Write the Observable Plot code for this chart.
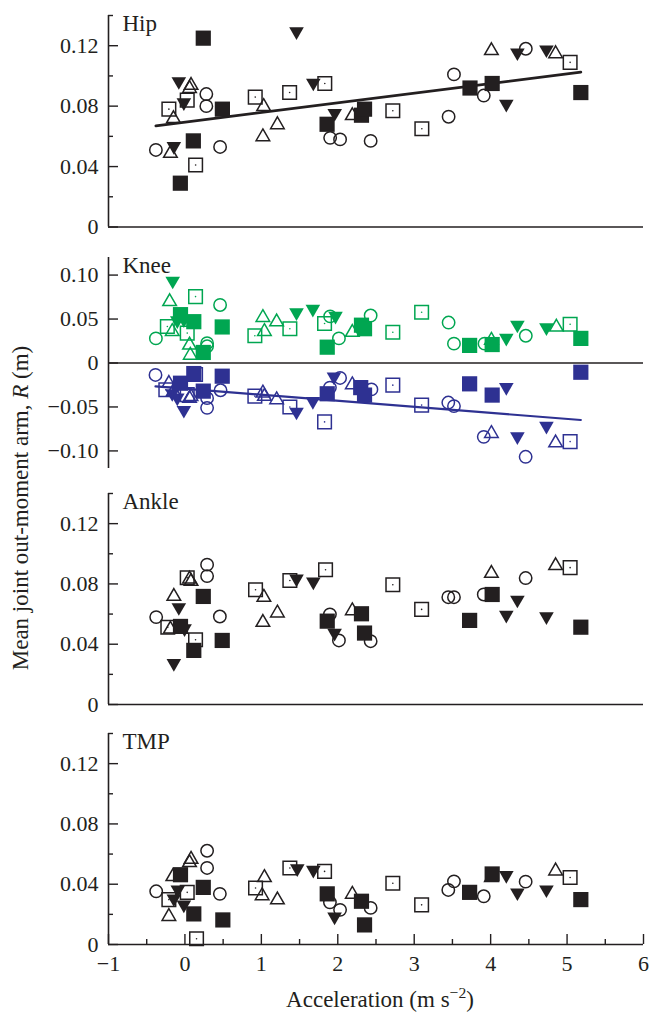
<!DOCTYPE html>
<html>
<head>
<meta charset="utf-8">
<script src="https://cdn.jsdelivr.net/npm/d3@7"></script>
<script src="https://cdn.jsdelivr.net/npm/@observablehq/plot@0.6"></script>
<style>
  body { margin: 0; background: #fff; }
  #chart { position: relative; width: 656px; height: 1015px; font-family: "Liberation Serif", "Times New Roman", serif; color: #231f20; }
  #chart svg { position: absolute; left: 0; }
  .ylabel { position: absolute; left: 20px; top: 508px; transform: translate(-50%, -50%) rotate(-90deg); white-space: nowrap; font-size: 23px; line-height: 1; }
  .xlabel { position: absolute; left: 380px; top: 988px; transform: translateX(-50%); white-space: nowrap; font-size: 23px; line-height: 1; }
  .xlabel sup { font-size: 0.68em; line-height: 0; }
</style>
</head>
<body>
<div id="chart">
  <div class="ylabel">Mean joint out-moment arm, <i>R</i> (m)</div>
  <div class="xlabel">Acceleration (m s<sup>−2</sup>)</div>
</div>
<script>
// Marker codes: o open circle, t open triangle, v filled inverted triangle,
// s open square with centre dot, S filled square.  Rows: [marker, acceleration, R]
const hip = [
  ["o", -0.38, 0.051], ["o", 0.28, 0.088], ["o", 0.28, 0.080], ["o", 0.46, 0.053], ["o", 1.90, 0.059],
  ["o", 2.03, 0.058], ["o", 2.43, 0.057], ["o", 3.45, 0.073], ["o", 3.52, 0.101], ["o", 3.91, 0.087], ["o", 4.46, 0.118],
  ["t", -0.19, 0.050], ["t", -0.15, 0.073], ["t", 0.06, 0.093], ["t", 0.08, 0.095], ["t", 1.03, 0.081],
  ["t", 1.02, 0.061], ["t", 1.21, 0.069], ["t", 2.19, 0.075], ["t", 4.01, 0.118], ["t", 4.85, 0.116],
  ["v", -0.145, 0.052], ["v", -0.08, 0.095], ["v", -0.014, 0.081], ["v", 1.46, 0.128], ["v", 1.68, 0.094],
  ["v", 1.96, 0.074], ["v", 4.205, 0.080], ["v", 4.35, 0.114], ["v", 4.73, 0.116],
  ["s", -0.21, 0.078], ["s", 0.03, 0.084], ["s", 0.14, 0.041], ["s", 0.92, 0.086], ["s", 1.37, 0.089],
  ["s", 1.83, 0.095], ["s", 2.72, 0.077], ["s", 3.10, 0.065], ["s", 5.04, 0.109],
  ["S", -0.06, 0.029], ["S", 0.11, 0.057], ["S", 0.24, 0.125], ["S", 0.49, 0.078], ["S", 1.86, 0.068],
  ["S", 2.31, 0.074], ["S", 2.35, 0.078], ["S", 3.73, 0.092], ["S", 4.02, 0.095], ["S", 5.18, 0.089]
];

const kneePositive = [
  ["o", -0.38, 0.028], ["o", 0.29, 0.0226], ["o", 0.29, 0.019], ["o", 0.46, 0.066], ["o", 1.90, 0.053],
  ["o", 2.015, 0.028], ["o", 2.43, 0.054], ["o", 3.45, 0.046], ["o", 3.52, 0.022], ["o", 3.92, 0.022], ["o", 4.46, 0.031],
  ["t", -0.20, 0.072], ["t", -0.166, 0.038], ["t", 0.06, 0.0226], ["t", 0.07, 0.011], ["t", 1.02, 0.054],
  ["t", 1.04, 0.038], ["t", 1.20, 0.049], ["t", 2.19, 0.037], ["t", 4.01, 0.028], ["t", 4.86, 0.043],
  ["v", -0.16, 0.091], ["v", -0.10, 0.046], ["v", -0.014, 0.047], ["v", 1.46, 0.055], ["v", 1.674, 0.059],
  ["v", 1.97, 0.051], ["v", 4.205, 0.026], ["v", 4.35, 0.041], ["v", 4.73, 0.038],
  ["s", -0.23, 0.0415], ["s", 0.03, 0.034], ["s", 0.139, 0.0755], ["s", 0.915, 0.031], ["s", 1.373, 0.039],
  ["s", 1.827, 0.045], ["s", 2.72, 0.035], ["s", 3.097, 0.0577], ["s", 5.04, 0.044],
  ["S", -0.058, 0.055], ["S", 0.116, 0.047], ["S", 0.24, 0.012], ["S", 0.488, 0.041], ["S", 1.862, 0.018],
  ["S", 2.31, 0.043], ["S", 2.35, 0.039], ["S", 3.725, 0.020], ["S", 4.02, 0.021], ["S", 5.18, 0.028]
];

const kneeNegative = [
  ["o", -0.385, -0.0136], ["o", 0.29, -0.040], ["o", 0.29, -0.051], ["o", 0.466, -0.031], ["o", 1.897, -0.028],
  ["o", 2.03, -0.017], ["o", 2.44, -0.030], ["o", 3.446, -0.045], ["o", 3.52, -0.049], ["o", 3.91, -0.084], ["o", 4.458, -0.1067],
  ["t", -0.21, -0.021], ["t", -0.15, -0.030], ["t", 0.06, -0.038], ["t", 0.08, -0.036], ["t", 1.02, -0.032],
  ["t", 1.04, -0.0358], ["t", 1.20, -0.0396], ["t", 2.19, -0.0226], ["t", 4.01, -0.078], ["t", 4.85, -0.0886],
  ["v", -0.166, -0.037], ["v", -0.10, -0.042], ["v", -0.014, -0.056], ["v", 1.46, -0.058], ["v", 1.674, -0.046],
  ["v", 1.95, -0.018], ["v", 4.205, -0.030], ["v", 4.35, -0.086], ["v", 4.73, -0.074],
  ["s", -0.25, -0.0305], ["s", 0.03, -0.036], ["s", 0.139, -0.013], ["s", 0.915, -0.0377], ["s", 1.373, -0.050],
  ["s", 1.827, -0.067], ["s", 2.72, -0.0252], ["s", 3.097, -0.0479], ["s", 5.04, -0.0894],
  ["S", -0.058, -0.023], ["S", 0.116, -0.012], ["S", 0.24, -0.032], ["S", 0.488, -0.015], ["S", 1.862, -0.035],
  ["S", 2.30, -0.028], ["S", 2.35, -0.0365], ["S", 3.725, -0.0237], ["S", 4.02, -0.0365], ["S", 5.18, -0.0105]
];

const ankle = [
  ["o", -0.376, 0.058], ["o", 0.29, 0.0928], ["o", 0.29, 0.0852], ["o", 0.457, 0.0584], ["o", 1.897, 0.0598],
  ["o", 2.015, 0.0425], ["o", 2.43, 0.042], ["o", 3.446, 0.0712], ["o", 3.52, 0.0712], ["o", 3.91, 0.073], ["o", 4.458, 0.0839],
  ["t", -0.19, 0.0513], ["t", -0.145, 0.073], ["t", 0.06, 0.0845], ["t", 0.08, 0.083], ["t", 1.033, 0.0724],
  ["t", 1.02, 0.0558], ["t", 1.21, 0.062], ["t", 2.19, 0.0635], ["t", 4.01, 0.0883], ["t", 4.85, 0.0934],
  ["v", -0.145, 0.026], ["v", -0.08, 0.063], ["v", -0.005, 0.049], ["v", 1.46, 0.082], ["v", 1.68, 0.080],
  ["v", 1.958, 0.046], ["v", 4.205, 0.058], ["v", 4.35, 0.068], ["v", 4.73, 0.057],
  ["s", -0.224, 0.0513], ["s", 0.03, 0.0841], ["s", 0.139, 0.043], ["s", 0.924, 0.0761], ["s", 1.373, 0.0823],
  ["s", 1.84, 0.0894], ["s", 2.72, 0.0795], ["s", 3.097, 0.0631], ["s", 5.04, 0.0908],
  ["S", -0.058, 0.0518], ["S", 0.116, 0.0359], ["S", 0.24, 0.0717], ["S", 0.488, 0.0425], ["S", 1.862, 0.0553],
  ["S", 2.31, 0.0602], ["S", 2.35, 0.0474], ["S", 3.725, 0.0558], ["S", 4.02, 0.073], ["S", 5.18, 0.0513]
];

const tmp = [
  ["o", -0.376, 0.0353], ["o", 0.29, 0.0622], ["o", 0.29, 0.0508], ["o", 0.457, 0.0336], ["o", 1.897, 0.028],
  ["o", 2.03, 0.023], ["o", 2.43, 0.0243], ["o", 3.446, 0.0362], ["o", 3.52, 0.0419], ["o", 3.91, 0.032], ["o", 4.458, 0.0417],
  ["t", -0.21, 0.0199], ["t", -0.158, 0.0463], ["t", 0.06, 0.0556], ["t", 0.08, 0.0578], ["t", 1.04, 0.0457],
  ["t", 1.01, 0.0336], ["t", 1.21, 0.0309], ["t", 2.19, 0.0346], ["t", 4.01, 0.0457], ["t", 4.85, 0.0501],
  ["v", -0.145, 0.029], ["v", -0.093, 0.035], ["v", -0.014, 0.025], ["v", 1.47, 0.049], ["v", 1.68, 0.048],
  ["v", 1.958, 0.017], ["v", 4.205, 0.0445], ["v", 4.35, 0.033], ["v", 4.73, 0.035],
  ["s", -0.21, 0.0298], ["s", 0.03, 0.0346], ["s", 0.152, 0.0038], ["s", 0.924, 0.0375], ["s", 1.373, 0.0508],
  ["s", 1.827, 0.0485], ["s", 2.72, 0.0406], ["s", 3.097, 0.0263], ["s", 5.04, 0.0445],
  ["S", -0.058, 0.0463], ["S", 0.116, 0.0203], ["S", 0.24, 0.0379], ["S", 0.496, 0.0163], ["S", 1.862, 0.0336],
  ["S", 2.31, 0.0287], ["S", 2.35, 0.013], ["S", 3.725, 0.0346], ["S", 4.02, 0.0468], ["S", 5.18, 0.0298]
];

// Fitted lines: [intercept, slope]
const hipFit = [0.0694, 0.00638];
const kneeNegativeFit = [-0.0293, -0.00686];

// Axis ticks
const accTicks = [-1, 0, 1, 2, 3, 4, 5, 6];
const accMinorTicks = [-0.5, 0.5, 1.5, 2.5, 3.5, 4.5, 5.5];
const armTicks = [0, 0.04, 0.08, 0.12];
const armMinorTicks = [0.02, 0.06, 0.10, 0.14];
const kneeTicks = [-0.10, -0.05, 0, 0.05, 0.10];

const ink = "#231f20", green = "#00a651", blue = "#2e3192";
const W = 656, ML = 108, MR = 13, plotW = W - ML - MR;

// Symbols sized so that r is the half-width of the shape
const half = size => Math.sqrt(size / Math.PI);
const triUp = { draw(c, size) { const r = half(size), h = r * Math.sqrt(3) / 2; c.moveTo(0, -h); c.lineTo(r, h); c.lineTo(-r, h); c.closePath(); } };
const triDown = { draw(c, size) { const r = half(size), h = r * Math.sqrt(3) / 2; c.moveTo(-r, -h); c.lineTo(r, -h); c.lineTo(0, h); c.closePath(); } };
const box = { draw(c, size) { const r = half(size); c.rect(-r, -r, 2 * r, 2 * r); } };

const markers = {
  o: { symbol: "circle", r: 6.2, open: true },
  v: { symbol: triDown, r: 7.3, open: false },
  t: { symbol: triUp, r: 6.8, open: true },
  s: { symbol: box, r: 6.8, open: true, centre: true },
  S: { symbol: box, r: 7.6, open: false }
};
const drawOrder = ["o", "v", "t", "s", "S"];

function pointMarks(rows, color) {
  return drawOrder.flatMap(k => {
    const m = markers[k];
    const sub = rows.filter(d => d[0] === k);
    const out = [Plot.dot(sub, {
      x: d => d[1], y: d => d[2], symbol: m.symbol, r: m.r,
      fill: m.open ? "none" : color, stroke: m.open ? color : "none", strokeWidth: 1.5
    })];
    if (m.centre) out.push(Plot.dot(sub, { x: d => d[1], y: d => d[2], r: 0.8, fill: color, stroke: "none" }));
    return out;
  });
}

function fitLine(rows, [a, b], color, width) {
  const xs = d3.extent(rows, d => d[1]);
  return Plot.line(xs.map(x => ({ x, y: a + b * x })), { x: "x", y: "y", stroke: color, strokeWidth: width });
}

const sign = d => (d < 0 ? "\u2212" : "");
const fmtR = d => d === 0 ? "0" : sign(d) + Math.abs(d).toFixed(2);
const fmtAcc = d => sign(d) + Math.abs(d);

function panel({ title, marks, yDomain, majors, minors, top, height, marginTop, marginBottom, xAxis }) {
  const plotH = height - marginTop - marginBottom;
  const all = [
    Plot.ruleY([0], { stroke: ink, strokeWidth: 1.7 }),
    Plot.ruleX([-1], { stroke: ink, strokeWidth: 1.6 }),
    Plot.tickY(majors, { stroke: ink, strokeWidth: 1.4, insetRight: plotW - 10 }),
    Plot.tickY(minors, { stroke: ink, strokeWidth: 1.4, insetRight: plotW - 5 }),
    Plot.axisY(majors, { tickSize: 0, tickPadding: 10, tickFormat: fmtR, label: null }),
    Plot.text([title], { frameAnchor: "top-left", dx: 14, dy: -1, lineAnchor: "top", textAnchor: "start", fontSize: 23, fill: ink }),
    ...marks
  ];
  if (xAxis) {
    all.push(
      Plot.tickX(accTicks, { stroke: ink, strokeWidth: 1.4, insetTop: plotH - 10 }),
      Plot.tickX(accMinorTicks, { stroke: ink, strokeWidth: 1.4, insetTop: plotH - 5 }),
      Plot.axisX(accTicks, { tickSize: 0, tickPadding: 11, tickFormat: fmtAcc, label: null })
    );
  }
  const svg = Plot.plot({
    width: W, height, marginLeft: ML, marginRight: MR, marginTop, marginBottom,
    x: { domain: [-1, 6], axis: null },
    y: { domain: yDomain, axis: null },
    style: { fontFamily: '"Liberation Serif", "Times New Roman", serif', fontSize: "22px", color: ink, background: "transparent", overflow: "visible" },
    marks: all
  });
  svg.style.top = top + "px";
  document.getElementById("chart").appendChild(svg);
}

panel({
  title: "Hip", yDomain: [0, 0.14], majors: armTicks, minors: armMinorTicks,
  top: 0, height: 240, marginTop: 15, marginBottom: 13.5,
  marks: [fitLine(hip, hipFit, ink, 2.8), ...pointMarks(hip, ink)]
});

panel({
  title: "Knee", yDomain: [-0.12, 0.12], majors: kneeTicks, minors: [],
  top: 240, height: 240, marginTop: 17, marginBottom: 12,
  marks: [...pointMarks(kneePositive, green), fitLine(kneeNegative, kneeNegativeFit, blue, 2.2), ...pointMarks(kneeNegative, blue)]
});

panel({
  title: "Ankle", yDomain: [0, 0.14], majors: armTicks, minors: armMinorTicks,
  top: 480, height: 240, marginTop: 13, marginBottom: 16,
  marks: pointMarks(ankle, ink)
});

panel({
  title: "TMP", yDomain: [0, 0.14], majors: armTicks, minors: armMinorTicks,
  top: 720, height: 260, marginTop: 13, marginBottom: 36, xAxis: true,
  marks: pointMarks(tmp, ink)
});
</script>
</body>
</html>
